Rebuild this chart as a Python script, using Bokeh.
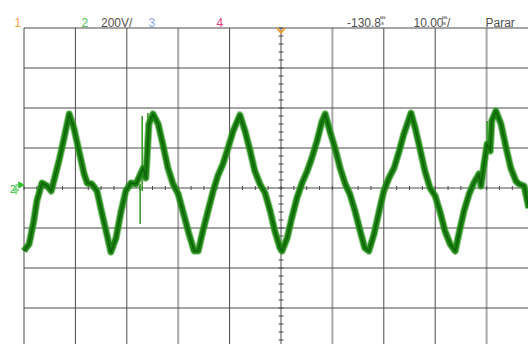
from bokeh.plotting import figure
from bokeh.models import Range1d
from bokeh.core.properties import value
from bokeh.embed import file_html
from bokeh.resources import INLINE

# Channel 2 capture: time in ms (trigger at 0), voltage in V (200 V/div, 10 ms/div)
time_ms = [
    -50.0, -49.6, -49.0, -48.1, -47.5, -46.5, -45.5, -44.7, -44.2, -43.2,
    -42.2, -41.2, -40.3, -39.3, -38.3, -37.7, -36.8, -35.8, -34.8, -33.9,
    -33.1, -32.1, -31.1, -30.2, -29.2, -28.2, -26.8, -26.3, -25.7, -24.9,
    -23.9, -23.0, -22.0, -21.0, -20.0, -19.1, -17.9, -16.9, -16.1, -15.2,
    -14.2, -13.2, -12.3, -11.3, -10.3, -9.3, -8.0, -7.0, -6.0, -5.1,
    -4.1, -3.1, -2.1, -1.2, -0.2, 0.2, 1.2, 2.1, 3.1, 4.1,
    5.1, 6.0, 7.0, 8.0, 8.6, 9.5, 10.5, 11.5, 12.5, 13.4,
    14.4, 15.4, 16.3, 17.1, 18.1, 19.1, 20.0, 21.0, 22.0, 23.0,
    23.9, 24.9, 25.3, 26.1, 27.0, 28.0, 29.0, 30.0, 30.9, 31.9,
    32.9, 33.9, 34.6, 35.6, 36.6, 37.5, 38.5, 38.9, 39.5, 40.1,
    40.7, 41.0, 41.8, 42.8, 43.8, 44.7, 45.7, 46.3, 47.3, 48.2,
]
volts = [
    -315, -300, -280, -165, -65, 25, 10, -15, 35, 135,
    250, 370, 300, 185, 70, 25, 20, -15, -130, -230,
    -320, -250, -115, -15, 25, 20, 100, 50, 320, 370,
    320, 220, 100, 20, -30, -115, -230, -315, -315, -215,
    -115, -15, 60, 120, 200, 285, 365, 285, 185, 85,
    20, -25, -115, -215, -300, -315, -250, -150, -50, 25,
    85, 150, 235, 335, 370, 285, 200, 100, 20, -30,
    -115, -215, -300, -315, -230, -115, -15, 50, 100, 185,
    270, 345, 375, 300, 200, 85, 0, -40, -115, -215,
    -280, -315, -230, -115, -30, 25, 70, 10, 120, 220,
    185, 335, 385, 320, 200, 100, 35, 20, 10, -100,
]

# Glitch spikes: time, start voltage, end voltage
spike_t = [-27.4, -27.0, -26.3, -25.9, 40.1]
spike_v0 = [20, -15, 50, 185, 220]
spike_v1 = [-180, 360, 185, 375, 335]

# Graticule
div_t_dark = [-50, -40, -30, -10, 0, 20, 30, 50]
div_t_soft = [-20, 10, 40]
div_v = [800, 600, 400, 200, 0, -200, -400, -600, -800]
minor_t_step = 2.5
minor_v_step = 40

# Pixel geometry of the screen
W, H = 528, 344
PX_PER_MS = 51.4 / 10.0
PX_PER_V = 40.0 / 200.0
X0_PX = 23.5      # left graticule edge
Y0_PX = 27.5      # top graticule edge

t_start = -50 - X0_PX / PX_PER_MS
t_end = t_start + W / PX_PER_MS
v_top = 800 + Y0_PX / PX_PER_V
v_bot = v_top - H / PX_PER_V


def tx(px):
    return t_start + px / PX_PER_MS


def vy(py):
    return v_top - py / PX_PER_V


p = figure(width=W, height=H, output_backend="svg", toolbar_location=None,
           x_range=Range1d(t_start, t_end), y_range=Range1d(v_bot, v_top),
           x_axis_location=None, y_axis_location=None, min_border=0)
p.grid.visible = False
p.outline_line_color = None
p.background_fill_color = "white"
p.border_fill_color = "white"

grid_col = "#4a4a4a"
# vertical division lines
p.segment(x0=div_t_dark, y0=[800] * len(div_t_dark), x1=div_t_dark,
          y1=[-800] * len(div_t_dark), line_color=grid_col, line_width=1)
p.segment(x0=div_t_soft, y0=[800] * len(div_t_soft), x1=div_t_soft,
          y1=[-800] * len(div_t_soft), line_color="#a9a9a9", line_width=2)
# horizontal division lines
p.segment(x0=[-50] * len(div_v), y0=div_v, x1=[50] * len(div_v), y1=div_v,
          line_color=grid_col, line_width=1)

# minor ticks on the centre axes
mt = [-50 + i * minor_t_step for i in range(int(100 / minor_t_step) + 1)]
p.segment(x0=mt, y0=[-2 / PX_PER_V] * len(mt), x1=mt, y1=[2 / PX_PER_V] * len(mt),
          line_color=grid_col, line_width=1)
mv = [-800 + i * minor_v_step for i in range(int(1600 / minor_v_step) + 1)]
hw = 2.5 / PX_PER_MS
p.segment(x0=[-hw] * len(mv), y0=mv, x1=[hw] * len(mv), y1=mv,
          line_color=grid_col, line_width=1)

# trace: soft outer edge, solid body, dark core
p.line(time_ms, volts, line_color="#45a338", line_width=7.5, line_join="round",
       line_alpha=0.6)
p.segment(x0=spike_t, y0=spike_v0, x1=spike_t, y1=spike_v1,
          line_color="#3d9b30", line_width=1.6)
p.line(time_ms, volts, line_color="#1d8512", line_width=5.5, line_join="round")
p.line(time_ms, volts, line_color="#0e620a", line_width=1.5, line_join="round")

# trigger position marker
p.line([tx(276.5), 0, tx(284.5)], [800, vy(32.5), 800],
       line_color="#f29b2a", line_width=2)

font = value("Liberation Sans")

# channel 2 ground marker
mk = "#2fbf2f"
p.text(x=[tx(9.5)], y=[vy(188)], text=["2"], text_color=mk, text_font_size="10px",
       text_font=font, text_baseline="alphabetic")
p.segment(x0=[tx(15)], y0=[vy(184.5)], x1=[tx(19)], y1=[vy(184.5)], line_color=mk, line_width=1)
p.scatter(x=[tx(20)], y=[vy(184.5)], marker="triangle", angle=-1.5708, size=6,
          fill_color=mk, line_color=mk)
p.segment(x0=[tx(15.5), tx(12.5), tx(13.8), tx(14.8)],
          y0=[vy(185), vy(189.5), vy(191.5), vy(193.5)],
          x1=[tx(15.5), tx(18.5), tx(17.2), tx(16.2)],
          y1=[vy(189.5), vy(189.5), vy(191.5), vy(193.5)],
          line_color=mk, line_width=1)

# status line
hdr_x = [14, 81, 100.5, 148, 216, 346.5, 413, 485]
hdr_txt = ["1", "2", "200V/", "3", "4", "-130.8", "10.00", "Parar"]
hdr_col = ["#f6a23a", "#4fbf4f", "#505050", "#8ba6ee", "#e4367e",
           "#505050", "#505050", "#505050"]
p.text(x=[tx(v) for v in hdr_x], y=[vy(22)] * len(hdr_x), text=hdr_txt,
       text_color=hdr_col, text_font_size="12px", text_font=font,
       text_baseline="alphabetic")
# stacked "ms" unit marks
unit_x = [379.5, 441.5]
p.text(x=[tx(v) for v in unit_x], y=[vy(16.5)] * 2, text=["m", "m"],
       text_color="#505050", text_font_size="6px", text_font=font,
       text_baseline="alphabetic")
p.text(x=[tx(v + 1) for v in unit_x], y=[vy(22)] * 2, text=["s", "s"],
       text_color="#505050", text_font_size="6px", text_font=font,
       text_baseline="alphabetic")
p.segment(x0=[tx(v) for v in unit_x], y0=[vy(17.5)] * 2,
          x1=[tx(v + 5.5) for v in unit_x], y1=[vy(17.5)] * 2,
          line_color="#707070", line_width=0.8)
p.text(x=[tx(446.5)], y=[vy(22)], text=["/"], text_color="#505050",
       text_font_size="12px", text_font=font, text_baseline="alphabetic")

open("out.html", "w").write(file_html(p, INLINE))
